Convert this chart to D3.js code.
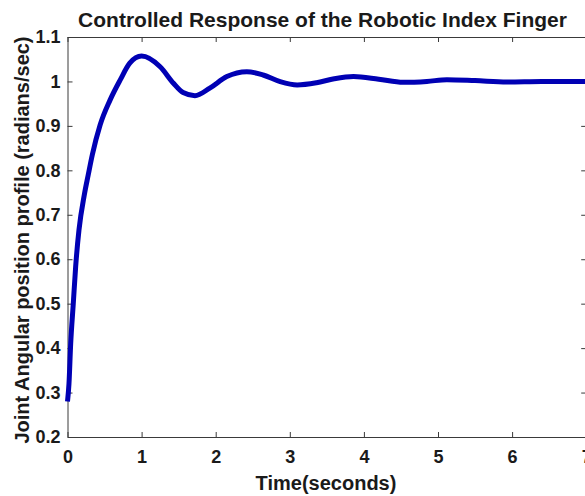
<!DOCTYPE html>
<html>
<head>
<meta charset="utf-8">
<script src="https://cdn.jsdelivr.net/npm/d3@7"></script>
<style>
body { margin: 0; background: #fff; }
text { font-family: "Liberation Sans", Arial, sans-serif; font-weight: bold; fill: #1a1a1a; }
.axis path, .axis line { stroke: #3a3a3a; }
</style>
</head>
<body>
<svg id="plot" width="585" height="496"></svg>
<script>
// step response
const time = [0, 0.02, 0.043, 0.078, 0.11, 0.155, 0.227, 0.28, 0.335, 0.44, 0.574, 0.71, 0.84, 1.0,
  1.25, 1.43, 1.56, 1.72, 1.92, 2.15, 2.42, 2.64, 2.87, 3.1, 3.36, 3.6, 3.86, 4.2, 4.53, 4.85,
  5.12, 5.5, 5.93, 6.4, 7.0];
const position = [0.28, 0.32, 0.41, 0.50, 0.583, 0.666, 0.745, 0.79, 0.835, 0.902, 0.958, 1.003, 1.041, 1.057,
  1.033, 0.996, 0.975, 0.968, 0.985, 1.011, 1.022, 1.0145, 0.9995, 0.992, 0.997, 1.006, 1.011, 1.005, 0.998, 1.0,
  1.004, 1.002, 0.999, 1.0, 1.0];

const xTicks = [0, 1, 2, 3, 4, 5, 6, 7];
const yTicks = [0.2, 0.3, 0.4, 0.5, 0.6, 0.7, 0.8, 0.9, 1.0, 1.1];

const svg = d3.select('#plot');

const plotLeft = 67.5, plotRight = 586.2, plotTop = 37, plotBottom = 437;

const xScale = d3.scaleLinear().domain([0, 7]).range([plotLeft, plotRight]);
const yScale = d3.scaleLinear().domain([0.2, 1.1]).range([plotBottom, plotTop]);

const fmt = (v) => String(+v.toFixed(1));

// bottom axis with labels, ticks pointing inward
svg.append('g')
  .attr('class', 'axis')
  .attr('transform', `translate(0, ${plotBottom})`)
  .call(d3.axisBottom(xScale).tickValues(xTicks).tickFormat(fmt)
    .tickSizeInner(-5).tickSizeOuter(0).tickPadding(13))
  .call(g => g.selectAll('text').style('font-size', '18px'));

// top axis, ticks only
svg.append('g')
  .attr('class', 'axis')
  .attr('transform', `translate(0, ${plotTop})`)
  .call(d3.axisTop(xScale).tickValues(xTicks).tickFormat('')
    .tickSizeInner(-5).tickSizeOuter(0));

svg.append('g')
  .attr('class', 'axis')
  .attr('transform', `translate(${plotLeft}, 0)`)
  .call(d3.axisLeft(yScale).tickValues(yTicks).tickFormat(fmt)
    .tickSizeInner(-5).tickSizeOuter(0).tickPadding(7))
  .call(g => g.selectAll('text').style('font-size', '18px'));

svg.append('g')
  .attr('class', 'axis')
  .attr('transform', `translate(${plotRight}, 0)`)
  .call(d3.axisRight(yScale).tickValues(yTicks).tickFormat('')
    .tickSizeInner(-5).tickSizeOuter(0));

const points = time.map((t, i) => [t, position[i]]);

const line = d3.line()
  .x(d => xScale(d[0]))
  .y(d => yScale(d[1]))
  .curve(d3.curveMonotoneX);

svg.append('path')
  .datum(points)
  .attr('d', line)
  .attr('fill', 'none')
  .attr('stroke', '#0000b4')
  .attr('stroke-width', 5)
  .attr('stroke-linejoin', 'round');

svg.append('text')
  .attr('x', 322.5)
  .attr('y', 27)
  .attr('text-anchor', 'middle')
  .style('font-size', '21px')
  .text('Controlled Response of the Robotic Index Finger');

svg.append('text')
  .attr('x', 326)
  .attr('y', 490)
  .attr('text-anchor', 'middle')
  .style('font-size', '20px')
  .text('Time(seconds)');

svg.append('text')
  .attr('transform', 'translate(29, 240) rotate(-90)')
  .attr('text-anchor', 'middle')
  .style('font-size', '20px')
  .text('Joint Angular position profile (radians/sec)');
</script>
</body>
</html>
